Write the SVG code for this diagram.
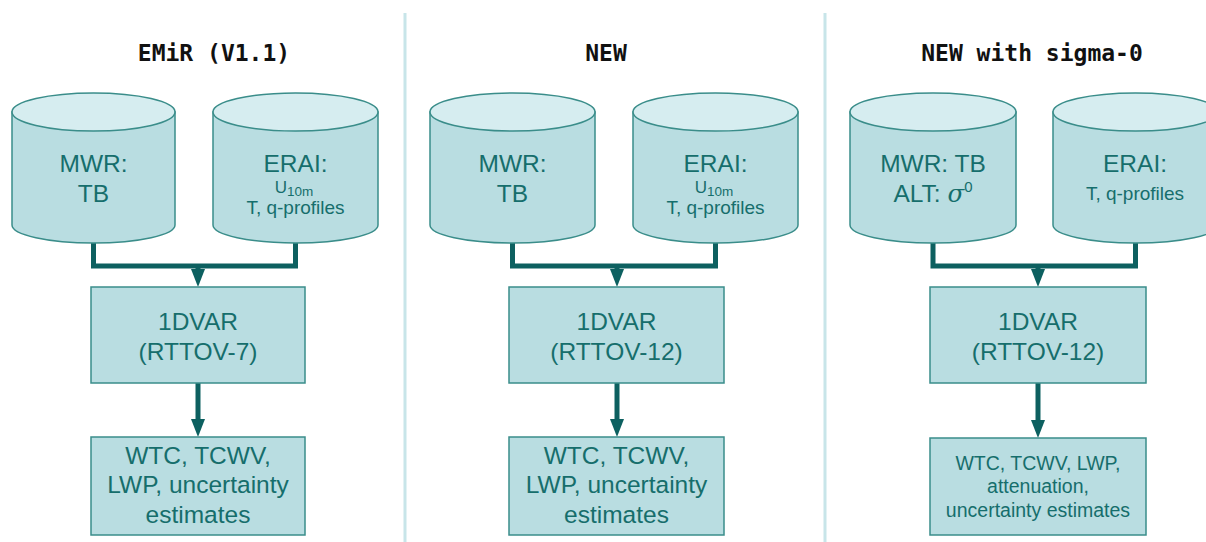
<svg xmlns="http://www.w3.org/2000/svg" width="1206" height="542" viewBox="0 0 1206 542">
<defs>
<style>
.cyl{fill:#b9dde1;stroke:#3a8d8a;stroke-width:1.5}
.cyltop{fill:#d6edf0;stroke:#3a8d8a;stroke-width:1.5}
.box{fill:#b9dde1;stroke:#3a8d8a;stroke-width:1.5}
.t{font-family:"Liberation Sans",Arial,sans-serif;fill:#166e6c;text-anchor:middle}
.title{font-family:"DejaVu Sans Mono","Liberation Mono",monospace;font-weight:bold;font-size:23px;fill:#111;text-anchor:middle}
.conn{fill:none;stroke:#0d6060;stroke-width:5}
.arr{fill:none;stroke:#0d6060;stroke-width:5;marker-end:url(#ah)}
.div{stroke:#c8e5e9;stroke-width:3}
</style>
<marker id="ah" viewBox="0 0 18 14" refX="0" refY="7" markerWidth="18" markerHeight="14" markerUnits="userSpaceOnUse" orient="auto">
<path d="M0,0 L18,7 L0,14 Z" fill="#0d6060"/>
</marker>
</defs>
<rect width="1206" height="542" fill="#ffffff"/>
<g id="dividers">
<line class="div" x1="405" y1="13" x2="405" y2="542"/>
<line class="div" x1="825" y1="13" x2="825" y2="542"/>
</g>
<g id="titles">
<text class="title" x="214" y="61">EMiR (V1.1)</text>
<text class="title" x="606" y="61">NEW</text>
<text class="title" x="1032" y="61">NEW with sigma-0</text>
</g>
<g id="connectors">
<path class="conn" d="M93.5,243 V266 H295.5 V243"/>
<line class="arr" x1="198" y1="266" x2="198" y2="269"/>
<line class="arr" x1="198" y1="383" x2="198" y2="419"/>
<path class="conn" d="M512.5,243 V266 H715.5 V243"/>
<line class="arr" x1="617" y1="266" x2="617" y2="269"/>
<line class="arr" x1="617" y1="383" x2="617" y2="419"/>
<path class="conn" d="M933,243 V266 H1135.5 V243"/>
<line class="arr" x1="1038" y1="266" x2="1038" y2="269"/>
<line class="arr" x1="1038" y1="383" x2="1038" y2="420"/>
</g>
<g id="p1-mwr">
<path class="cyl" d="M12,112 V225 A81.5,18 0 0 0 175,225 V112 Z"/>
<ellipse class="cyltop" cx="93.5" cy="112" rx="81.5" ry="19"/>
<text class="t" x="93.5" y="172" font-size="24.5">MWR:</text>
<text class="t" x="93.5" y="202" font-size="24.5">TB</text>
</g>
<g id="p1-erai">
<path class="cyl" d="M213,112 V225 A82.5,18 0 0 0 378,225 V112 Z"/>
<ellipse class="cyltop" cx="295.5" cy="112" rx="82.5" ry="19"/>
<text class="t" x="295.5" y="172" font-size="24.5">ERAI:</text>
<text class="t" x="294" y="193" font-size="17">U<tspan font-size="13.5" dy="3">10m</tspan></text>
<text class="t" x="295.5" y="214" font-size="19">T, q-profiles</text>
</g>
<g id="p1-1dvar">
<rect class="box" x="91" y="287" width="214" height="96"/>
<text class="t" x="198" y="330" font-size="24.5">1DVAR</text>
<text class="t" x="198" y="360" font-size="24.5">(RTTOV-7)</text>
</g>
<g id="p1-out">
<rect class="box" x="91" y="437" width="214" height="98"/>
<text class="t" x="198" y="464" font-size="24.5">WTC, TCWV,</text>
<text class="t" x="198" y="493" font-size="24.5">LWP, uncertainty</text>
<text class="t" x="198" y="523" font-size="24.5">estimates</text>
</g>
<g id="p2-mwr">
<path class="cyl" d="M430,112 V225 A82.5,18 0 0 0 595,225 V112 Z"/>
<ellipse class="cyltop" cx="512.5" cy="112" rx="82.5" ry="19"/>
<text class="t" x="512.5" y="172" font-size="24.5">MWR:</text>
<text class="t" x="512.5" y="202" font-size="24.5">TB</text>
</g>
<g id="p2-erai">
<path class="cyl" d="M633,112 V225 A82.5,18 0 0 0 798,225 V112 Z"/>
<ellipse class="cyltop" cx="715.5" cy="112" rx="82.5" ry="19"/>
<text class="t" x="715.5" y="172" font-size="24.5">ERAI:</text>
<text class="t" x="714" y="193" font-size="17">U<tspan font-size="13.5" dy="3">10m</tspan></text>
<text class="t" x="715.5" y="214" font-size="19">T, q-profiles</text>
</g>
<g id="p2-1dvar">
<rect class="box" x="509" y="287" width="215" height="96"/>
<text class="t" x="616.5" y="330" font-size="24.5">1DVAR</text>
<text class="t" x="616.5" y="360" font-size="24.5">(RTTOV-12)</text>
</g>
<g id="p2-out">
<rect class="box" x="509" y="437" width="215" height="98"/>
<text class="t" x="616.5" y="464" font-size="24.5">WTC, TCWV,</text>
<text class="t" x="616.5" y="493" font-size="24.5">LWP, uncertainty</text>
<text class="t" x="616.5" y="523" font-size="24.5">estimates</text>
</g>
<g id="p3-mwr">
<path class="cyl" d="M850,112 V225 A83,18 0 0 0 1016,225 V112 Z"/>
<ellipse class="cyltop" cx="933" cy="112" rx="83" ry="19"/>
<text class="t" x="933" y="172" font-size="24.5">MWR: TB</text>
<text class="t" x="933" y="202" font-size="24.5">ALT: <tspan font-family="'DejaVu Serif',serif" font-style="italic">σ</tspan><tspan font-size="15" dy="-10">0</tspan></text>
</g>
<g id="p3-erai">
<path class="cyl" d="M1053,112 V225 A82.5,18 0 0 0 1218,225 V112 Z"/>
<ellipse class="cyltop" cx="1135.5" cy="112" rx="82.5" ry="19"/>
<text class="t" x="1135" y="172" font-size="24.5">ERAI:</text>
<text class="t" x="1135" y="200" font-size="19">T, q-profiles</text>
</g>
<g id="p3-1dvar">
<rect class="box" x="930" y="287" width="216" height="96"/>
<text class="t" x="1038" y="330" font-size="24.5">1DVAR</text>
<text class="t" x="1038" y="360" font-size="24.5">(RTTOV-12)</text>
</g>
<g id="p3-out">
<rect class="box" x="930" y="438" width="216" height="97"/>
<text class="t" x="1038" y="470" font-size="19.5">WTC, TCWV, LWP,</text>
<text class="t" x="1038" y="493" font-size="19.5">attenuation,</text>
<text class="t" x="1038" y="517" font-size="19.5">uncertainty estimates</text>
</g>
</svg>
